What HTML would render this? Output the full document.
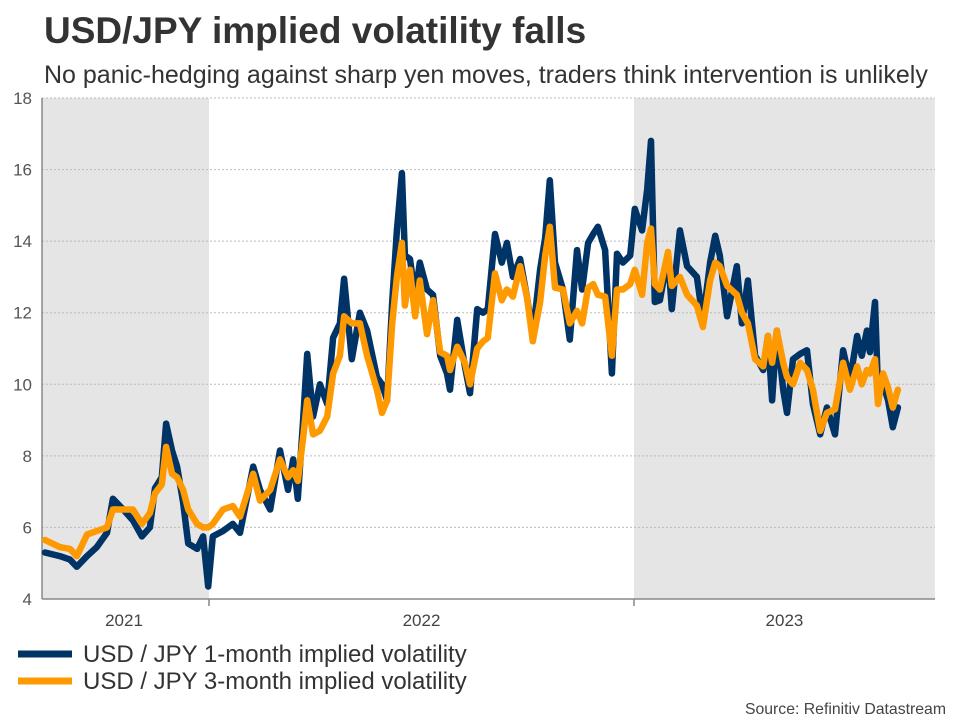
<!DOCTYPE html>
<html><head><meta charset="utf-8"><style>
body{margin:0;background:#fff;font-family:"Liberation Sans",Arial,sans-serif;}
svg text{font-family:"Liberation Sans",Arial,sans-serif;}
</style></head><body>
<svg width="960" height="720" viewBox="0 0 960 720">
<text x="44" y="43" font-size="37" font-weight="bold" fill="#333">USD/JPY implied volatility falls</text>
<text x="44" y="83" font-size="25" fill="#333">No panic-hedging against sharp yen moves, traders think intervention is unlikely</text>
<g id="shades"></g><g id="grid"></g><g id="axes"></g><g id="series"></g>
<g>
<line x1="18" y1="654" x2="72" y2="654" stroke="#003366" stroke-width="7"/>
<text x="83" y="662" font-size="24" fill="#333">USD / JPY 1-month implied volatility</text>
<line x1="18" y1="681" x2="72" y2="681" stroke="#ff9900" stroke-width="7"/>
<text x="83" y="689" font-size="24" fill="#333">USD / JPY 3-month implied volatility</text>
</g>
<text x="946" y="714" font-size="15.8" fill="#444" text-anchor="end">Source: Refinitiv Datastream</text>
</svg>
<script>
const dates=[2021.614,2021.649,2021.673,2021.689,2021.713,2021.736,2021.760,2021.774,2021.798,2021.821,2021.842,2021.861,2021.873,2021.889,2021.899,2021.913,2021.925,2021.939,2021.951,2021.972,2021.986,2021.998,2022.009,2022.033,2022.056,2022.073,2022.104,2022.120,2022.144,2022.167,2022.186,2022.198,2022.209,2022.221,2022.231,2022.245,2022.261,2022.278,2022.292,2022.308,2022.318,2022.336,2022.355,2022.372,2022.395,2022.407,2022.419,2022.431,2022.442,2022.454,2022.461,2022.473,2022.485,2022.496,2022.513,2022.527,2022.544,2022.560,2022.567,2022.584,2022.602,2022.614,2022.631,2022.645,2022.656,2022.673,2022.689,2022.701,2022.715,2022.732,2022.748,2022.762,2022.779,2022.791,2022.802,2022.814,2022.833,2022.849,2022.866,2022.878,2022.892,2022.904,2022.915,2022.932,2022.948,2022.960,2022.974,2022.991,2023.002,2023.019,2023.031,2023.040,2023.049,2023.061,2023.080,2023.089,2023.108,2023.125,2023.148,2023.162,2023.179,2023.191,2023.202,2023.219,2023.242,2023.254,2023.268,2023.285,2023.304,2023.315,2023.325,2023.336,2023.351,2023.360,2023.374,2023.391,2023.407,2023.421,2023.438,2023.454,2023.473,2023.492,2023.508,2023.525,2023.536,2023.548,2023.555,2023.567,2023.574,2023.586,2023.598,2023.609,2023.621];
const vol1m=[5.3,5.2,5.1,4.9,5.2,5.45,5.85,6.8,6.5,6.2,5.75,6.0,7.1,7.4,8.9,8.15,7.7,6.7,5.55,5.4,5.75,4.35,5.75,5.9,6.1,5.85,7.7,7.05,6.5,8.15,7.05,7.9,6.8,8.9,10.85,9.1,10.0,9.45,11.3,11.7,12.95,10.7,12.0,11.5,10.2,10.0,9.55,12.3,14.3,15.9,13.6,13.5,12.45,13.4,12.65,12.5,10.8,10.3,9.85,11.8,10.5,9.75,12.1,12.0,12.1,14.2,13.4,13.95,13.0,13.5,12.45,11.4,13.2,14.1,15.7,13.4,12.65,11.25,13.75,12.65,13.95,14.2,14.4,13.75,10.3,13.65,13.4,13.6,14.9,14.3,15.45,16.8,12.3,12.35,13.6,12.1,14.3,13.3,13.0,11.8,13.4,14.15,13.6,11.9,13.3,11.7,12.9,10.8,10.4,11.35,9.55,11.5,9.85,9.2,10.7,10.85,10.95,9.45,8.6,9.35,8.6,10.95,10.1,11.35,10.8,11.5,10.9,12.3,9.85,10.0,9.55,8.8,9.35];
const vol3m=[5.65,5.45,5.4,5.2,5.8,5.9,6.0,6.5,6.5,6.5,6.1,6.4,6.95,7.2,8.25,7.5,7.4,7.05,6.5,6.1,6.0,6.0,6.1,6.5,6.6,6.3,7.5,6.75,7.05,7.9,7.4,7.6,7.3,8.45,9.55,8.6,8.7,9.1,10.3,10.8,11.9,11.7,11.7,10.8,9.85,9.2,9.55,11.7,13.0,13.95,12.2,13.2,11.9,12.9,11.4,12.35,10.9,10.8,10.4,11.05,10.6,10.0,11.0,11.2,11.3,13.1,12.35,12.65,12.45,13.3,12.45,11.2,12.3,13.6,14.4,12.7,12.65,11.7,12.05,11.7,12.7,12.8,12.5,12.45,10.8,12.65,12.65,12.8,13.2,12.5,13.95,14.35,12.8,12.65,13.7,12.75,13.0,12.5,12.2,11.6,12.9,13.4,13.3,12.75,12.5,12.0,11.7,10.7,10.5,11.35,10.6,11.5,10.6,10.2,10.0,10.6,10.4,9.85,8.7,9.2,9.3,10.6,9.85,10.5,10.0,10.4,10.3,10.7,9.45,10.3,9.9,9.35,9.85];
const yTicks=[4,6,8,10,12,14,16,18];
const yearLabels=["2021","2022","2023"];
const yearMid=[2021.80,2022.5,2023.354];
const yearBounds=[2022,2023];
const shadedSpans=[[2021.607,2022],[2023,2023.708]];

const NS="http://www.w3.org/2000/svg";
const L=42,R=935,T=98,B=599;
function xs(t){return 209+(t-2022)*425;}
function ys(v){return B-(v-4)*(B-T)/14;}
function mk(tag,attrs,parent){const e=document.createElementNS(NS,tag);for(const k in attrs)e.setAttribute(k,attrs[k]);parent.appendChild(e);return e;}
const gS=document.getElementById('shades'),gG=document.getElementById('grid'),gA=document.getElementById('axes'),gSer=document.getElementById('series');
shadedSpans.forEach(s=>{
  const r=mk('rect',{x:xs(s[0]),y:T,width:xs(s[1])-xs(s[0]),height:B-T,fill:'#e5e5e5'},gS);
  
  
});
yTicks.forEach(v=>{
  if(v>4){const l=mk('line',{x1:L,x2:R,y1:ys(v),y2:ys(v),stroke:'#bbb','stroke-dasharray':'2,2','stroke-width':1},gG);
  
  }
  const t=mk('text',{x:32,y:ys(v)+6,'font-size':17,fill:'#555','text-anchor':'end'},gA);t.textContent=v;
  
  
});
const ax=mk('line',{x1:L,x2:R,y1:B,y2:B,stroke:'#888','stroke-width':1.5},gA);


const ay=mk('line',{x1:L,x2:L,y1:T,y2:B,stroke:'#888','stroke-width':1.5},gA);


yearBounds.forEach(b=>{const tk=mk('line',{x1:xs(b),x2:xs(b),y1:B,y2:B+7,stroke:'#888','stroke-width':1.5},gA);
  
  });
yearLabels.forEach((lab,i)=>{const t=mk('text',{x:xs(yearMid[i]),y:626,'font-size':17,fill:'#444','text-anchor':'middle'},gA);t.textContent=lab;
  
  });
function path(vals){return vals.map((v,i)=>(i?'L':'M')+xs(dates[i]).toFixed(1)+','+ys(v).toFixed(1)).join('');}
const p1=mk('path',{d:path(vol1m),fill:'none',stroke:'#003366','stroke-width':6.5,'stroke-linejoin':'round','stroke-linecap':'round'},gSer);


const p3=mk('path',{d:path(vol3m),fill:'none',stroke:'#ff9900','stroke-width':6.5,'stroke-linejoin':'round','stroke-linecap':'round'},gSer);


</script>
</body></html>
